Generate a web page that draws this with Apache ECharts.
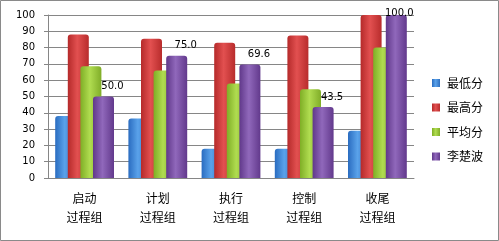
<!DOCTYPE html>
<html>
<head>
<meta charset="utf-8">
<script src="https://cdn.jsdelivr.net/npm/echarts@6/dist/echarts.min.js"></script>
<style>
html,body{margin:0;padding:0;background:#fff;}
#c{width:499px;height:241px;}
</style>
</head>
<body>
<div id="c"></div>
<script>
var categories = ['启动\n过程组', '计划\n过程组', '执行\n过程组', '控制\n过程组', '收尾\n过程组'];
var seriesNames = ['最低分', '最高分', '平均分', '李楚波'];
var lowScores = [38, 36.5, 18, 18, 29];
var highScores = [88, 85.5, 83, 87.5, 100];
var avgScores = [68.5, 66, 58, 54.5, 80];
var liScores = [50.0, 75.0, 69.6, 43.5, 100.0];
var yTicks = [0, 10, 20, 30, 40, 50, 60, 70, 80, 90, 100];

var baseColors = [
  ['#2a6cc0', '#5aa2ea', '#2f6fbf'],
  ['#b52a2a', '#e25050', '#b82c2c'],
  ['#7fae26', '#b0dc50', '#80ad28'],
  ['#60388a', '#9068bb', '#62398c']
];
function grad(c) {
  return new echarts.graphic.LinearGradient(0, 0, 1, 0, [
    {offset: 0, color: c[0]},
    {offset: 0.45, color: c[1]},
    {offset: 1, color: c[2]}
  ]);
}
var allData = [lowScores, highScores, avgScores, liScores];
var series = allData.map(function (arr, i) {
  var s = {
    name: seriesNames[i],
    type: 'bar',
    barWidth: 21,
    barGap: '-40%',
    itemStyle: {color: grad(baseColors[i]), borderRadius: [3, 3, 0, 0]},
    data: arr.slice()
  };
  if (i === 3) {
    s.data = arr.map(function (v) {
      var item = {value: v};
      if (v >= 100) {
        item.label = {offset: [3, 8]};
      }
      return item;
    });
    s.label = {
      show: true,
      position: 'top',
      distance: 5,
      offset: [9, 0],
      color: '#000',
      fontFamily: 'DejaVu Sans',
      fontSize: 10,
      formatter: function (p) { return p.value.toFixed(1); }
    };
  }
  return s;
});

var chart = echarts.init(document.getElementById('c'));
chart.setOption({
  animation: false,
  backgroundColor: '#fff',
  graphic: [{
    type: 'rect',
    shape: {x: 0.5, y: 0.5, width: 498, height: 240},
    style: {fill: 'none', stroke: '#8a8a8a', lineWidth: 1},
    silent: true
  }],
  grid: {left: 48, right: 85, top: 15, bottom: 63},
  legend: {
    orient: 'vertical',
    left: 427,
    top: 72,
    itemWidth: 8,
    itemHeight: 8,
    itemGap: 12.5,
    icon: 'rect',
    textStyle: {fontFamily: 'Noto Sans CJK SC', fontSize: 12, color: '#000', padding: [0, 0, 0, 2]},
    data: seriesNames
  },
  xAxis: {
    type: 'category',
    data: categories,
    axisLine: {lineStyle: {color: '#868686'}},
    axisTick: {show: false},
    axisLabel: {
      color: '#000',
      fontFamily: 'Noto Sans CJK SC',
      fontSize: 12,
      lineHeight: 19,
      margin: 11
    }
  },
  yAxis: {
    type: 'value',
    min: yTicks[0],
    max: yTicks[yTicks.length - 1],
    interval: 10,
    axisLine: {show: true, lineStyle: {color: '#868686'}},
    axisTick: {show: true, length: 4, lineStyle: {color: '#868686'}},
    splitLine: {lineStyle: {color: '#868686'}},
    axisLabel: {
      color: '#000',
      fontFamily: 'DejaVu Sans',
      fontSize: 10,
      margin: 13
    }
  },
  series: series
});
</script>
</body>
</html>
